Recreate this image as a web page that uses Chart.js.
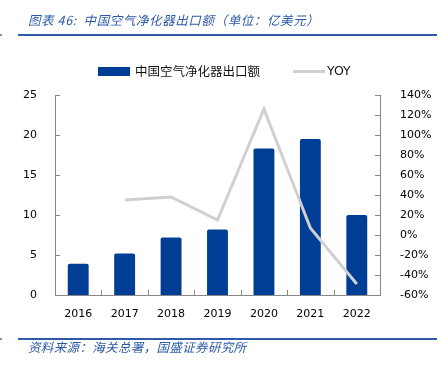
<!DOCTYPE html>
<html>
<head>
<meta charset="utf-8">
<script src="https://cdn.jsdelivr.net/npm/chart.js@4"></script>
<style>
  html, body { margin: 0; padding: 0; background: #fff; }
  #wrap { position: relative; width: 445px; height: 365px; overflow: hidden; }
  #chart { position: absolute; left: 0; top: 0; }
  .cap { position: absolute; left: 28px; font: italic 12.5px "Noto Sans CJK SC", sans-serif; color: #2d5aa8; line-height: 16px; white-space: nowrap; z-index: 2; }
  .rule { position: absolute; left: 18px; width: 419px; height: 2px; background: #2d5aa8; }
  .dot { position: absolute; left: 0; width: 2px; height: 2px; background: #6f8fc8; }
  .legend { position: absolute; font-size: 12.5px; line-height: 16px; color: #111; white-space: nowrap; z-index: 2; }
</style>
</head>
<body>
<div id="wrap">
  <canvas id="chart" width="445" height="365"></canvas>
  <div class="cap" style="top:12px;letter-spacing:0.6px">图表 46:&nbsp; 中国空气净化器出口额（单位：亿美元）</div>
  <div class="dot" style="top:34px"></div>
  <div class="rule" style="top:34px"></div>

  <div style="position:absolute;left:98px;top:67px;width:32px;height:9px;background:#003e96"></div>
  <div class="legend" style="left:135px;top:63px;font-family:'Noto Sans CJK SC',sans-serif">中国空气净化器出口额</div>
  <div style="position:absolute;left:293px;top:70px;width:32px;height:3px;background:#d0d0d0"></div>
  <div class="legend" style="left:327px;top:63px;font-family:'DejaVu Sans',sans-serif">YOY</div>

  <div class="dot" style="top:338px"></div>
  <div class="rule" style="top:338px"></div>
  <div class="cap" style="top:339px;letter-spacing:0.35px">资料来源：海关总署，国盛证券研究所</div>
</div>
<script>
const years = ['2016', '2017', '2018', '2019', '2020', '2021', '2022'];
const exportValue = [3.9, 5.2, 7.2, 8.2, 18.3, 19.5, 10.0];
const yoy = [null, 35, 38, 15, 126, 7, -49];
const leftTicks = [0, 5, 10, 15, 20, 25];
const rightTicks = [-60, -40, -20, 0, 20, 40, 60, 80, 100, 120, 140];

const AXIS = '#888888';
const tickFont = { family: 'DejaVu Sans', size: 11 };

// short tick marks drawn inward, like the original
const innerTicks = {
  id: 'innerTicks',
  afterDraw(chart) {
    const { ctx, chartArea, scales } = chart;
    const { x, y, y1 } = scales;
    ctx.save();
    ctx.strokeStyle = AXIS;
    ctx.lineWidth = 1;
    ctx.beginPath();
    y.ticks.forEach((t, i) => {
      const p = Math.round(y.getPixelForTick(i)) + 0.5;
      ctx.moveTo(chartArea.left, p);
      ctx.lineTo(chartArea.left + 5, p);
    });
    y1.ticks.forEach((t, i) => {
      const p = Math.round(y1.getPixelForTick(i)) + 0.5;
      ctx.moveTo(chartArea.right - 5, p);
      ctx.lineTo(chartArea.right, p);
    });
    for (let i = 1; i < years.length; i++) {
      const p = Math.round((x.getPixelForTick(i - 1) + x.getPixelForTick(i)) / 2) + 0.5;
      ctx.moveTo(p, chartArea.bottom);
      ctx.lineTo(p, chartArea.bottom - 5);
    }
    ctx.stroke();
    ctx.restore();
  },
};

new Chart(document.getElementById('chart'), {
  data: {
    labels: years,
    datasets: [
      {
        type: 'bar',
        label: '中国空气净化器出口额',
        data: exportValue,
        yAxisID: 'y',
        backgroundColor: '#003e96',
        borderWidth: 0,
        borderRadius: { topLeft: 2, topRight: 2 },
        borderSkipped: 'bottom',
        barPercentage: 0.45,
        categoryPercentage: 1,
        order: 1,
      },
      {
        type: 'line',
        label: 'YOY',
        data: yoy,
        yAxisID: 'y1',
        borderColor: '#d0d0d0',
        borderWidth: 3,
        borderJoinStyle: 'miter',
        pointRadius: 0,
        tension: 0,
        order: 0,
      },
    ],
  },
  options: {
    responsive: false,
    animation: false,
    layout: { padding: { top: 95, bottom: 0, left: 0, right: 0 } },
    plugins: {
      legend: { display: false },
      tooltip: { enabled: false },
    },
    scales: {
      x: {
        grid: { display: false },
        border: { color: AXIS, width: 1 },
        ticks: { font: tickFont, color: '#000', padding: 5 },
        afterFit(scale) { scale.height = 70; },
      },
      y: {
        position: 'left',
        min: leftTicks[0],
        max: leftTicks[leftTicks.length - 1],
        afterBuildTicks(scale) { scale.ticks = leftTicks.map(v => ({ value: v })); },
        grid: { display: false },
        border: { color: AXIS, width: 1 },
        ticks: { font: tickFont, color: '#000', padding: 10 },
        afterFit(scale) { scale.width = 55; },
      },
      y1: {
        position: 'right',
        min: rightTicks[0],
        max: rightTicks[rightTicks.length - 1],
        afterBuildTicks(scale) { scale.ticks = rightTicks.map(v => ({ value: v })); },
        grid: { display: false },
        border: { color: AXIS, width: 1 },
        ticks: { font: tickFont, color: '#000', padding: 12, callback: v => v + '%' },
        afterFit(scale) { scale.width = 65; },
      },
    },
  },
  plugins: [innerTicks],
});
</script>
</body>
</html>
